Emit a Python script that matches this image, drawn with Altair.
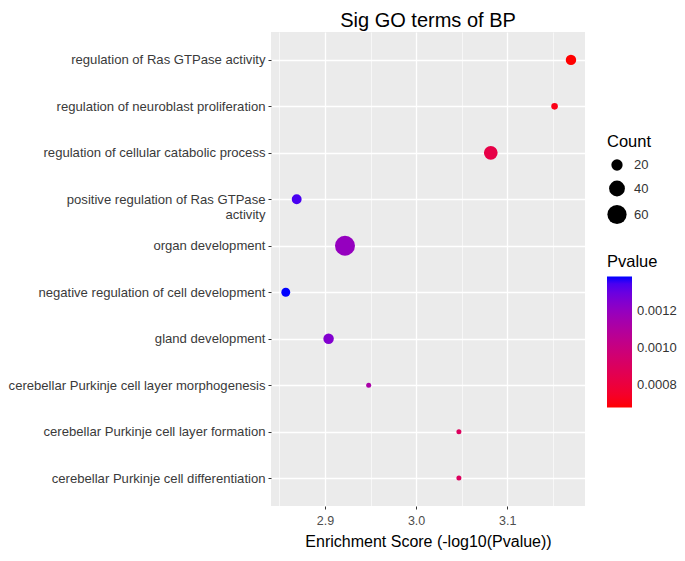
import altair as alt
import pandas as pd

terms = [
    "regulation of Ras GTPase activity",
    "regulation of neuroblast proliferation",
    "regulation of cellular catabolic process",
    "positive regulation of Ras GTPase activity",
    "organ development",
    "negative regulation of cell development",
    "gland development",
    "cerebellar Purkinje cell layer morphogenesis",
    "cerebellar Purkinje cell layer formation",
    "cerebellar Purkinje cell differentiation",
]
score = [3.170, 3.152, 3.082, 2.869, 2.922, 2.857, 2.904, 2.948, 3.047, 3.047]
pvalue = [0.000676, 0.000705, 0.000828, 0.00135, 0.00120, 0.00139, 0.00125, 0.00113, 0.000897, 0.000897]
count = [17, 6, 30, 15, 65, 12, 17, 3, 3, 3]

df = pd.DataFrame({"Term": terms, "Score": score, "Pvalue": pvalue, "Count": count})

FONT = "Liberation Sans"

minor = "round(datum.value*100) % 10 == 5"

chart = alt.Chart(df).mark_circle(opacity=1).encode(
    x=alt.X(
        "Score:Q",
        title="Enrichment Score (-log10(Pvalue))",
        scale=alt.Scale(domain=[2.8408, 3.1854], nice=False, zero=False),
        axis=alt.Axis(
            values=[2.85, 2.9, 2.95, 3.0, 3.05, 3.1, 3.15],
            labelExpr=f"{minor} ? '' : format(datum.value, '.1f')",
            grid=True,
            gridColor="white",
            gridWidth={"condition": {"test": minor, "value": 0.6}, "value": 1.3},
            tickColor={"condition": {"test": minor, "value": "transparent"}, "value": "#333333"},
            tickSize=3,
            domain=False,
            labelFont=FONT,
            labelFontSize=12.5,
            labelColor="#4D4D4D",
            labelPadding=5,
            titleFont=FONT,
            titleFontSize=16,
            titleFontWeight="normal",
            titleColor="black",
            titlePadding=7,
        ),
    ),
    y=alt.Y(
        "Term:N",
        title=None,
        sort=terms,
        scale=alt.Scale(padding=0.6),
        axis=alt.Axis(
            grid=True,
            gridColor="white",
            gridWidth=1.3,
            tickSize=3,
            tickColor="#333333",
            domain=False,
            labelFont=FONT,
            labelFontSize=13.1,
            labelColor="#3A3A3A",
            labelPadding=3,
            labelLimit=400,
            labelExpr="datum.label == 'positive regulation of Ras GTPase activity' ? ['positive regulation of Ras GTPase', 'activity'] : datum.label",
        ),
    ),
    color=alt.Color(
        "Pvalue:Q",
        scale=alt.Scale(range=["red", "blue"], interpolate="lab", domain=[min(pvalue), max(pvalue)], nice=False, zero=False),
        legend=alt.Legend(
            title="Pvalue",
            orient="none",
            legendX=336,
            legendY=222,
            values=[0.0008, 0.0010, 0.0012],
            format=".4f",
            gradientLength=131,
            gradientThickness=25,
            gradientStrokeWidth=0,
            titleFont=FONT,
            titleFontSize=16.5,
            titleFontWeight="normal",
            titleColor="black",
            labelFont=FONT,
            labelFontSize=13,
            labelColor="#333333",
            labelOffset=5,
            titlePadding=6,
        ),
    ),
    size=alt.Size(
        "Count:Q",
        scale=alt.Scale(domain=[3, 65], range=[25, 400], zero=False),
        legend=alt.Legend(
            title="Count",
            orient="none",
            legendX=336,
            legendY=102,
            values=[20, 40, 60],
            symbolFillColor="black",
            symbolStrokeWidth=0,
            titleFont=FONT,
            titleFontSize=16.5,
            titleFontWeight="normal",
            titleColor="black",
            labelFont=FONT,
            labelFontSize=13,
            labelColor="#333333",
            labelOffset=7,
            rowPadding=8,
            titlePadding=8,
            offset=0,
        ),
    ),
).properties(
    width=314,
    height=474,
    padding={"left": 0, "top": 3, "right": 0, "bottom": 0},
    title=alt.TitleParams(
        "Sig GO terms of BP",
        font=FONT,
        fontSize=20,
        fontWeight="normal",
        color="black",
        anchor="middle",
        offset=1,
    ),
).configure_view(
    fill="#EBEBEB",
    stroke=None,
)

chart.save("out.html", embed_options={"renderer": "svg", "actions": False})
